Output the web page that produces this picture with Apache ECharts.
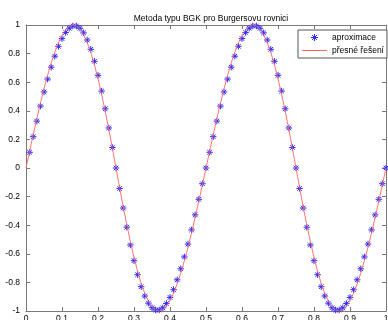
<!DOCTYPE html>
<html>
<head>
<meta charset="utf-8">
<script src="https://cdn.jsdelivr.net/npm/echarts@6/dist/echarts.min.js"></script>
<style>html,body{margin:0;padding:0;background:#fff}#c{width:388px;height:320px}</style>
</head>
<body>
<div id="c"></div>
<script>
const titleText = 'Metoda typu BGK pro Burgersovu rovnici';
const seriesNames = ['aproximace', 'přesné řešení'];
const xTicks = ['0','0.1','0.2','0.3','0.4','0.5','0.6','0.7','0.8','0.9','1'];
const yTicks = ['-1','-0.8','-0.6','-0.4','-0.2','0','0.2','0.4','0.6','0.8','1'];
const xStep = 0.01;
// approximation (asterisks), samples at x = 0.01 ... 1.00
const aproximace = [
  0.110, 0.219, 0.328, 0.433, 0.532, 0.622, 0.705, 0.782, 0.851, 0.905,
  0.948, 0.978, 0.993, 0.993, 0.977, 0.945, 0.895, 0.830, 0.746, 0.648,
  0.538, 0.414, 0.280, 0.143, 0.000, -0.143, -0.280, -0.414, -0.538, -0.648,
  -0.746, -0.830, -0.895, -0.945, -0.977, -0.993, -0.993, -0.978, -0.948, -0.905,
  -0.851, -0.782, -0.705, -0.622, -0.532, -0.433, -0.328, -0.219, -0.110, 0.000,
  0.110, 0.219, 0.328, 0.433, 0.532, 0.622, 0.705, 0.782, 0.851, 0.905,
  0.948, 0.978, 0.993, 0.993, 0.977, 0.945, 0.895, 0.830, 0.746, 0.648,
  0.538, 0.414, 0.280, 0.143, 0.000, -0.143, -0.280, -0.414, -0.538, -0.648,
  -0.746, -0.830, -0.895, -0.945, -0.977, -0.993, -0.993, -0.978, -0.948, -0.905,
  -0.851, -0.782, -0.705, -0.622, -0.532, -0.433, -0.328, -0.219, -0.110, 0.000
];
// exact solution (red line), samples at x = 0.00 ... 1.00
const presne = [
  0.000, 0.117, 0.232, 0.344, 0.452, 0.554, 0.648, 0.734, 0.810, 0.875,
  0.927, 0.966, 0.991, 1.000, 0.994, 0.971, 0.933, 0.878, 0.808, 0.723,
  0.625, 0.516, 0.398, 0.271, 0.136, 0.000, -0.136, -0.271, -0.398, -0.516,
  -0.625, -0.723, -0.808, -0.878, -0.933, -0.971, -0.994, -1.000, -0.991, -0.966,
  -0.927, -0.875, -0.810, -0.734, -0.648, -0.554, -0.452, -0.344, -0.232, -0.117,
  0.000, 0.117, 0.232, 0.344, 0.452, 0.554, 0.648, 0.734, 0.810, 0.875,
  0.927, 0.966, 0.991, 1.000, 0.994, 0.971, 0.933, 0.878, 0.808, 0.723,
  0.625, 0.516, 0.398, 0.271, 0.136, 0.000, -0.136, -0.271, -0.398, -0.516,
  -0.625, -0.723, -0.808, -0.878, -0.933, -0.971, -0.994, -1.000, -0.991, -0.966,
  -0.927, -0.875, -0.810, -0.734, -0.648, -0.554, -0.452, -0.344, -0.232, -0.117,
  0.000
];

const FONT = 'Liberation Sans';
const AXC = '#7a7a7a';
const BLUE = '#2a2aff';
const RED = '#ff6464';
const apData = aproximace.map((v, i) => [+((i + 1) * xStep).toFixed(2), v]);
const exData = presne.map((v, i) => [+(i * xStep).toFixed(2), v]);
const asterisk = 'path://M5 0L5 10M0 5L10 5M1.5 1.5L8.5 8.5M1.5 8.5L8.5 1.5';
const lineIcon = 'path://M0 0L25 0L25 1L0 1Z';

function axisBase(extra) {
  return Object.assign({
    type: 'value',
    axisLine: { show: true, onZero: false, lineStyle: { color: AXC, width: 1 } },
    axisTick: { show: true, inside: true, length: 4, lineStyle: { color: AXC } },
    splitLine: { show: false }
  }, extra);
}

const chart = echarts.init(document.getElementById('c'), null, { renderer: 'canvas' });
chart.setOption({
  animation: false,
  backgroundColor: '#fff',
  title: {
    text: titleText, left: 206, top: 9, textAlign: 'center',
    textStyle: { fontFamily: FONT, fontSize: 8.5, fontWeight: 'normal', color: '#000' }
  },
  grid: { left: 26, right: 2, top: 25, bottom: 9, containLabel: false, outerBoundsMode: 'none' },
  legend: {
    left: 298, top: 30, orient: 'vertical',
    padding: [3, 3, 3, 4], itemGap: 4, itemWidth: 25, itemHeight: 7,
    borderColor: '#555', borderWidth: 1, backgroundColor: '#fff',
    textStyle: { fontFamily: FONT, fontSize: 8.5, color: '#000' },
    data: [
      { name: seriesNames[0], icon: asterisk,
        itemStyle: { color: 'rgba(0,0,0,0)', borderColor: BLUE, borderWidth: 1 } },
      { name: seriesNames[1], icon: lineIcon,
        itemStyle: { color: RED, borderWidth: 0 } }
    ]
  },
  xAxis: [
    axisBase({ min: 0, max: 1, interval: 0.1, position: 'bottom',
      axisLabel: { margin: 3, fontFamily: FONT, fontSize: 8.5, color: '#000',
        formatter: (v) => xTicks[Math.round(v * 10)] } }),
    axisBase({ min: 0, max: 1, interval: 0.1, position: 'top', axisLabel: { show: false } })
  ],
  yAxis: [
    axisBase({ min: -1, max: 1, interval: 0.2, position: 'left',
      axisLabel: { margin: 6, fontFamily: FONT, fontSize: 8.5, color: '#000',
        formatter: (v) => yTicks[Math.round((v + 1) * 5)] } }),
    axisBase({ min: -1, max: 1, interval: 0.2, position: 'right', axisLabel: { show: false } })
  ],
  series: [
    {
      name: seriesNames[0], type: 'scatter', data: apData,
      symbol: asterisk, symbolSize: 6.5,
      itemStyle: { color: 'rgba(0,0,0,0)', borderColor: BLUE, borderWidth: 1, opacity: 1 },
      z: 3
    },
    {
      name: seriesNames[1], type: 'line', data: exData,
      symbol: 'none', smooth: false,
      lineStyle: { color: RED, width: 0.9 },
      itemStyle: { color: RED },
      z: 4
    }
  ]
});
</script>
</body>
</html>
